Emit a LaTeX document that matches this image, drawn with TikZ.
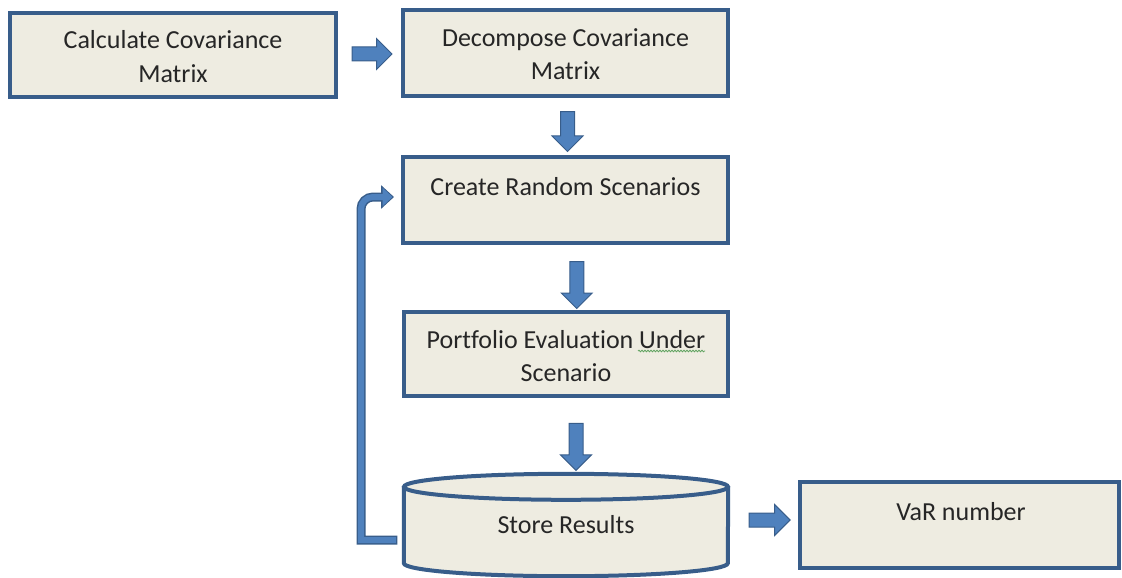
\documentclass[tikz,border=0pt]{standalone}
\usepackage{fontspec}
\setmainfont{Carlito}[Ligatures=NoCommon]
\usetikzlibrary{shapes.arrows,calc,arrows.meta,decorations.pathmorphing}
\definecolor{boxfill}{HTML}{EEECE1}
\definecolor{boxline}{HTML}{385D8A}
\definecolor{arrowfill}{HTML}{4F81BD}
\definecolor{textcol}{HTML}{262626}
\definecolor{spellmark}{HTML}{5FA35F}
\begin{document}
\begin{tikzpicture}[x=1pt,y=-1pt,
  stepbox/.style={rectangle, draw=boxline, fill=boxfill, line width=4pt, inner sep=0pt},
  labeltext/.style={font=\fontsize{26}{33}\selectfont, text=textcol, align=center, inner sep=0pt},
  blockarrow/.style={single arrow, draw=boxline, fill=arrowfill, line width=1pt,
    inner sep=6.5pt, single arrow head extend=8.5pt, single arrow head indent=0pt},
]
\useasboundingbox (0,0) rectangle (1122,578);

% process boxes
\node[stepbox, minimum width=326pt, minimum height=84pt] (calc) at (173,55) {};
\node[stepbox, minimum width=325pt, minimum height=86pt] (decomp) at (565.5,53) {};
\node[stepbox, minimum width=325pt, minimum height=86pt] (scen) at (565.5,200) {};
\node[stepbox, minimum width=324pt, minimum height=84pt] (evalp) at (566,354) {};
\node[stepbox, minimum width=319pt, minimum height=86pt] (var) at (959.5,525) {};

% storage cylinder (arc radii are canvas lengths, so angles follow the page)
\node[minimum width=324pt, minimum height=76pt, inner sep=0pt] (store) at (566,525) {};
\fill[boxfill] (store.north west) -- (store.south west)
  arc[start angle=180, end angle=360, x radius=162pt, y radius=13pt] -- (store.north east) -- cycle;
\draw[boxline, line width=4pt] (store.north west) -- (store.south west)
  arc[start angle=180, end angle=360, x radius=162pt, y radius=13pt] -- (store.north east);
\draw[boxline, fill=boxfill, line width=4pt] (store.north) ellipse[x radius=162pt, y radius=13pt];

% labels (base anchor sits on the last line)
\node[labeltext, anchor=base] (tcalc) at (173,82) {Calculate Covariance\\Matrix};
\node[labeltext, anchor=base] (tdecomp) at (565.5,80) {Decompose Covariance\\Matrix};
\node[labeltext, anchor=base] (tscen) at (565.5,195) {Create Random Scenarios};
\node[labeltext, anchor=base] (teval) at (566,381) {Portfolio Evaluation Under\\Scenario};
\node[labeltext, anchor=base] (tstore) at (566,533) {Store Results};
\node[labeltext, anchor=base] (tvar) at (961,520) {VaR number};
\draw[spellmark, line width=0.8pt, decorate, decoration={snake, amplitude=0.8pt, segment length=3pt}]
  (638,351) -- (705,351);

% block arrows between steps
\node[blockarrow, minimum height=40pt] (a1) at ($(calc.east)!0.5!(decomp.west)+(-1,0)$) {};
\node[blockarrow, minimum height=40pt, shape border rotate=270] (a2) at ($(decomp.south)!0.5!(scen.north)+(2,1.5)$) {};
\node[blockarrow, minimum height=47pt, shape border rotate=270] (a3) at ($(scen.south)!0.5!(evalp.north)+(11,4)$) {};
\node[blockarrow, minimum height=47pt, shape border rotate=270] (a4) at ($(evalp.south)!0.5!(store.north)+(10,1)$) {};
\node[blockarrow, minimum height=41pt] (a5) at ($(store.east)!0.5!(var.west)+(3,-5)$) {};

% loop back from the results store to scenario creation
\coordinate (loopS) at ($(store.west)+(-8,15)$);
\coordinate (loopE) at ($(scen.west)+(-7,-3)$);
\draw[boxline, line width=9pt, -{Triangle[length=13pt,width=23pt]}]
  ($(loopS)+(1.5,0)$) -- (361,540) -- (361,209)
  arc[start angle=180, end angle=90, radius=12pt] -- (loopE);
\draw[arrowfill, line width=6pt, shorten >=1.5pt, -{Triangle[length=10pt,width=18pt]}]
  (loopS) -- (361,540) -- (361,209)
  arc[start angle=180, end angle=90, radius=12pt] -- (loopE);
\end{tikzpicture}
\end{document}
